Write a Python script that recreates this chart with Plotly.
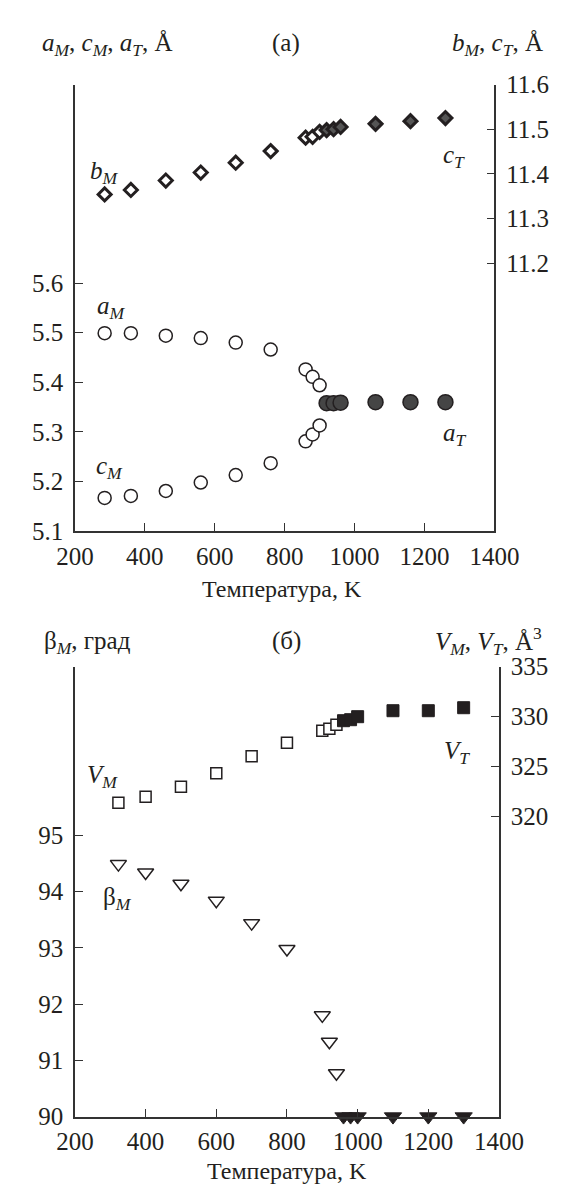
import plotly.graph_objects as go

# ---------------- data ----------------
# panel (a)
T_mono_a = [285, 360, 460, 560, 660, 760, 860, 880, 900]
a_M = [5.499, 5.499, 5.494, 5.489, 5.480, 5.466, 5.426, 5.411, 5.394]
c_M = [5.167, 5.171, 5.181, 5.198, 5.213, 5.237, 5.281, 5.295, 5.313]
b_M = [11.354, 11.364, 11.385, 11.403, 11.425, 11.451, 11.481, 11.483, 11.494]
T_tetr_a = [920, 940, 960, 1060, 1160, 1260]
a_T = [5.358, 5.358, 5.359, 5.360, 5.360, 5.360]
c_T = [11.498, 11.500, 11.505, 11.512, 11.518, 11.525]

# panel (б)
T_mono_b = [323, 400, 500, 600, 700, 800, 900, 920, 940]
V_M = [321.4, 322.0, 323.0, 324.35, 326.05, 327.4, 328.6, 328.8, 329.2]
beta_M = [94.49, 94.34, 94.14, 93.84, 93.44, 92.98, 91.80, 91.33, 90.77]
T_tetr_b = [960, 980, 1000, 1100, 1200, 1300]
V_T = [329.6, 329.7, 330.0, 330.6, 330.6, 330.9]
beta_T = [90, 90, 90, 90, 90, 90]

x_ticks = [200, 400, 600, 800, 1000, 1200, 1400]
left_ticks_a = [5.1, 5.2, 5.3, 5.4, 5.5, 5.6]
right_ticks_a = [11.2, 11.3, 11.4, 11.5, 11.6]
left_ticks_b = [90, 91, 92, 93, 94, 95]
right_ticks_b = [320, 325, 330, 335]

# ---------------- layout helpers ----------------
W, H = 563, 1191
FONT = "'Liberation Serif', 'Times New Roman', serif"
INK = "#231f20"
FS = 25


def px(x):
    return x / W


def py(y):
    return 1 - y / H


fig = go.Figure()

# panel (a) markers
fig.add_trace(go.Scatter(x=T_mono_a, y=b_M, xaxis="x", yaxis="y2", mode="markers",
                         marker=dict(symbol="diamond", size=10, color="white",
                                     line=dict(color=INK, width=3)), cliponaxis=False))
fig.add_trace(go.Scatter(x=T_tetr_a, y=c_T, xaxis="x", yaxis="y2", mode="markers",
                         marker=dict(symbol="diamond", size=10, color="#555555",
                                     line=dict(color=INK, width=3)), cliponaxis=False))
fig.add_trace(go.Scatter(x=T_mono_a, y=a_M, xaxis="x", yaxis="y", mode="markers",
                         marker=dict(symbol="circle", size=13, color="white",
                                     line=dict(color=INK, width=1.5)), cliponaxis=False))
fig.add_trace(go.Scatter(x=T_mono_a, y=c_M, xaxis="x", yaxis="y", mode="markers",
                         marker=dict(symbol="circle", size=13, color="white",
                                     line=dict(color=INK, width=1.5)), cliponaxis=False))
fig.add_trace(go.Scatter(x=T_tetr_a, y=a_T, xaxis="x", yaxis="y", mode="markers",
                         marker=dict(symbol="circle", size=15, color="#454545",
                                     line=dict(color=INK, width=1.5)), cliponaxis=False))

# panel (б) markers
fig.add_trace(go.Scatter(x=T_mono_b, y=V_M, xaxis="x2", yaxis="y4", mode="markers",
                         marker=dict(symbol="square", size=11, color="white",
                                     line=dict(color=INK, width=1.5)), cliponaxis=False))
fig.add_trace(go.Scatter(x=T_tetr_b, y=V_T, xaxis="x2", yaxis="y4", mode="markers",
                         marker=dict(symbol="square", size=12, color=INK,
                                     line=dict(color=INK, width=1)), cliponaxis=False))
fig.add_trace(go.Scatter(x=T_mono_b, y=beta_M, xaxis="x2", yaxis="y3", mode="markers",
                         marker=dict(symbol="triangle-down", size=14, color="white",
                                     line=dict(color=INK, width=1.5)), cliponaxis=False))
fig.add_trace(go.Scatter(x=T_tetr_b, y=beta_T, xaxis="x2", yaxis="y3", mode="markers",
                         marker=dict(symbol="triangle-down", size=15, color=INK,
                                     line=dict(color=INK, width=1)), cliponaxis=False))

axis_common = dict(showline=True, linecolor="#333333", linewidth=1.5, ticks="inside",
                   ticklen=8, tickwidth=1.3, tickcolor="#333333", showgrid=False,
                   zeroline=False, tickfont=dict(family=FONT, size=FS, color=INK))

fig.update_layout(
    width=W, height=H, showlegend=False,
    paper_bgcolor="white", plot_bgcolor="white",
    margin=dict(l=0, r=0, t=0, b=0),
    font=dict(family=FONT, color=INK),
    xaxis=dict(domain=[px(52), px(507)], range=[200, 1400], tickvals=x_ticks,
               anchor="y", ticklabelstandoff=2, **axis_common),
    yaxis=dict(domain=[py(522), py(65)], range=[5.1, 6.0], tickvals=left_ticks_a,
               ticktext=[f"{v:.1f}" for v in left_ticks_a], anchor="x",
               ticklabelstandoff=5, **axis_common),
    yaxis2=dict(range=[10.6, 11.6], tickvals=right_ticks_a,
                ticktext=[f"{v:.1f}" for v in right_ticks_a], overlaying="y",
                side="right", anchor="x", ticklabelstandoff=5, **axis_common),
    xaxis2=dict(domain=[px(52), px(512)], range=[200, 1400], tickvals=x_ticks,
                anchor="y3", ticklabelstandoff=2, **axis_common),
    yaxis3=dict(domain=[py(1121), py(660.7)], range=[90, 98], tickvals=left_ticks_b,
                anchor="x2", ticklabelstandoff=5, **axis_common),
    yaxis4=dict(range=[290, 335], tickvals=right_ticks_b, overlaying="y3",
                side="right", anchor="x2", ticklabelstandoff=5, **axis_common),
)


def label(text, x, y, size=FS, xanchor="center"):
    fig.add_annotation(text=text, x=px(x), y=py(y), xref="paper", yref="paper",
                       showarrow=False, xanchor=xanchor, yanchor="middle",
                       font=dict(family=FONT, size=size, color=INK))


# headers
label("<i>a</i><sub><i>M</i></sub>, <i>c</i><sub><i>M</i></sub>, <i>a</i><sub><i>T</i></sub>, Å",
      14, 24, xanchor="left")
label("(a)", 281, 22)
label("<i>b</i><sub><i>M</i></sub>, <i>c</i><sub><i>T</i></sub>, Å", 562, 24, xanchor="right")
label("β<sub><i>M</i></sub>, град", 16, 636, xanchor="left")
label("(б)", 281, 634)
label("<i>V</i><sub><i>M</i></sub>, <i>V</i><sub><i>T</i></sub>, Å<sup>3</sup>", 561, 634,
      xanchor="right")

# axis titles
label("Температура, K", 277, 581, size=24)
label("Температура, K", 282, 1177, size=24)

# series labels
label("<i>b</i><sub><i>M</i></sub>", 84, 155)
label("<i>c</i><sub><i>T</i></sub>", 463, 139)
label("<i>a</i><sub><i>M</i></sub>", 92, 293)
label("<i>a</i><sub><i>T</i></sub>", 464, 423)
label("<i>c</i><sub><i>M</i></sub>", 90, 457)
label("<i>V</i><sub><i>M</i></sub>", 82, 773)
label("β<sub><i>M</i></sub>", 98, 898)
label("<i>V</i><sub><i>T</i></sub>", 466, 748)

fig.write_html("out.html")
